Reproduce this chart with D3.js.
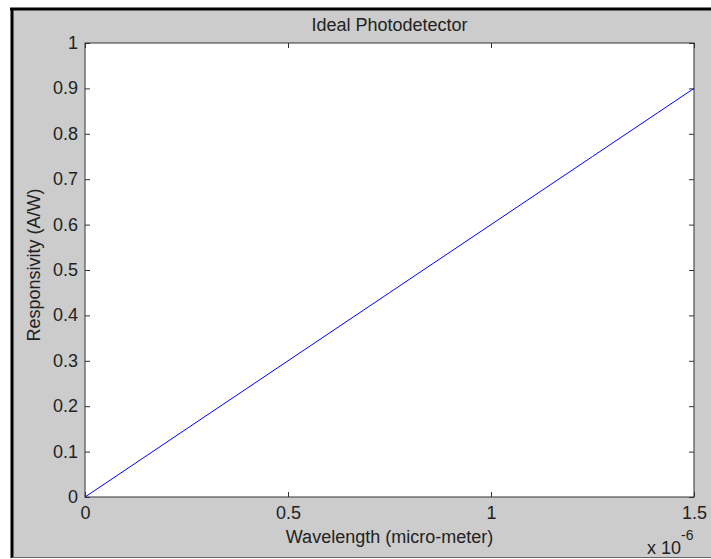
<!DOCTYPE html>
<html><head><meta charset="utf-8">
<script src="https://cdn.jsdelivr.net/npm/d3@7"></script>
<style>body{margin:0;background:#fff}svg{display:block}text{font-family:"Liberation Sans",Arial,sans-serif;fill:#222}</style>
</head><body>
<script>
const wavelength = [0, 0.25e-6, 0.5e-6, 0.75e-6, 1.0e-6, 1.25e-6, 1.5e-6];
const responsivity = [0, 0.15, 0.30, 0.45, 0.60, 0.75, 0.90];
const xTicks = [0, 0.5e-6, 1.0e-6, 1.5e-6];
const xTickLabels = ["0", "0.5", "1", "1.5"];
const yTicks = [0,0.1,0.2,0.3,0.4,0.5,0.6,0.7,0.8,0.9,1];
const yTickLabels = ["0","0.1","0.2","0.3","0.4","0.5","0.6","0.7","0.8","0.9","1"];

const W = 711, H = 559, FS = 18;
const svg = d3.select("body").append("svg").attr("width", W).attr("height", H);
svg.append("rect").attr("x",12).attr("y",9).attr("width",W).attr("height",548).attr("fill","#cccccc");
svg.append("line").attr("x1",10).attr("x2",W).attr("y1",9).attr("y2",9).attr("stroke","#000").attr("stroke-width",3);
svg.append("line").attr("x1",12).attr("x2",12).attr("y1",8).attr("y2",558).attr("stroke","#000").attr("stroke-width",3);
svg.append("line").attr("x1",12).attr("x2",W).attr("y1",557.5).attr("y2",557.5).attr("stroke","#666").attr("stroke-width",1);

const L = 85, R = 694, T = 43, B = 497;
const x = d3.scaleLinear().domain([0, 1.5e-6]).range([L, R]);
const y = d3.scaleLinear().domain([0, 1]).range([B, T]);

svg.append("rect").attr("x",L).attr("y",T).attr("width",R-L).attr("height",B-T).attr("fill","#fff");

const tl = 5;
const g = svg.append("g");
g.append("g").attr("transform",`translate(0,${B})`)
  .call(d3.axisBottom(x).tickValues(xTicks).tickSize(-tl).tickFormat((d,i)=>xTickLabels[i]))
  .call(s=>{s.select(".domain").remove(); s.selectAll("text").attr("font-size",FS).attr("fill","#222").attr("y",22).attr("dy",0);});
g.append("g").attr("transform",`translate(0,${T})`)
  .call(d3.axisTop(x).tickValues(xTicks).tickSize(-tl).tickFormat(""))
  .call(s=>s.select(".domain").remove());
g.append("g").attr("transform",`translate(${L},0)`)
  .call(d3.axisLeft(y).tickValues(yTicks).tickSize(-tl).tickPadding(7).tickFormat((d,i)=>yTickLabels[i]))
  .call(s=>{s.select(".domain").remove(); s.selectAll("text").attr("font-size",FS).attr("fill","#222").attr("dy","0.3em");});
g.append("g").attr("transform",`translate(${R},0)`)
  .call(d3.axisRight(y).tickValues(yTicks).tickSize(-tl).tickFormat(""))
  .call(s=>s.select(".domain").remove());
g.selectAll(".tick line").attr("stroke","#333");

svg.append("rect").attr("x",L).attr("y",T).attr("width",R-L).attr("height",B-T)
  .attr("fill","none").attr("stroke","#333").attr("stroke-width",1);

const line = d3.line().x((d,i)=>x(wavelength[i])).y(d=>y(d));
svg.append("path").datum(responsivity).attr("d",line).attr("fill","none").attr("stroke","#0000ff").attr("stroke-width",1);

svg.append("text").attr("x",(L+R)/2).attr("y",31).attr("text-anchor","middle").attr("font-size",FS).text("Ideal Photodetector");
svg.append("text").attr("x",(L+R)/2).attr("y",543).attr("text-anchor","middle").attr("font-size",FS).text("Wavelength (micro-meter)");
svg.append("text").attr("transform",`translate(40,${(T+B)/2 - 5}) rotate(-90)`).attr("text-anchor","middle").attr("font-size",FS).text("Responsivity (A/W)");
const ex = svg.append("text").attr("x",647).attr("y",554).attr("font-size",FS);
ex.append("tspan").text("x 10");
ex.append("tspan").attr("dy",-14).attr("font-size",14).text("-6");
</script>
</body></html>
